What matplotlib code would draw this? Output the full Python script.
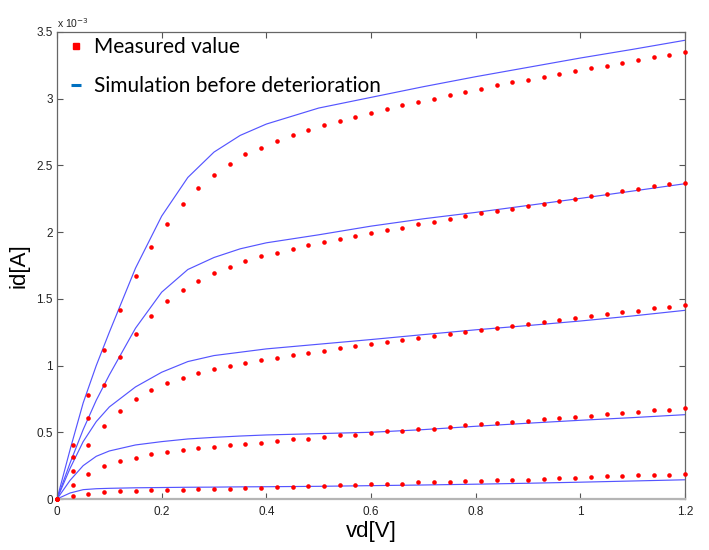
import matplotlib
matplotlib.use("Agg")
import matplotlib.pyplot as plt
from matplotlib.lines import Line2D
from matplotlib.ticker import FuncFormatter

# measured drain current (x 1e-3 A), sampled every 0.03 V
vd_meas = [0.0, 0.03, 0.06, 0.09, 0.12, 0.15, 0.18, 0.21, 0.24, 0.27, 0.30,
           0.33, 0.36, 0.39, 0.42, 0.45, 0.48, 0.51, 0.54, 0.57, 0.60,
           0.63, 0.66, 0.69, 0.72, 0.75, 0.78, 0.81, 0.84, 0.87, 0.90,
           0.93, 0.96, 0.99, 1.02, 1.05, 1.08, 1.11, 1.14, 1.17, 1.20]

meas_1 = [0, 0.406, 0.781, 1.12, 1.42, 1.674, 1.887, 2.063, 2.214, 2.333, 2.43,
          2.512, 2.582, 2.634, 2.681, 2.728, 2.768, 2.805, 2.835, 2.865, 2.892,
          2.921, 2.951, 2.976, 2.999, 3.031, 3.053, 3.075, 3.1, 3.122, 3.14,
          3.164, 3.187, 3.204, 3.229, 3.246, 3.271, 3.288, 3.311, 3.328, 3.348]
meas_2 = [0, 0.317, 0.607, 0.858, 1.064, 1.235, 1.371, 1.483, 1.57, 1.637, 1.694,
          1.741, 1.783, 1.818, 1.845, 1.875, 1.9, 1.924, 1.952, 1.969, 1.994,
          2.014, 2.034, 2.058, 2.076, 2.098, 2.118, 2.14, 2.158, 2.175, 2.195,
          2.212, 2.234, 2.247, 2.272, 2.289, 2.307, 2.326, 2.344, 2.359, 2.371]
meas_3 = [0, 0.213, 0.402, 0.545, 0.662, 0.751, 0.816, 0.868, 0.91, 0.947, 0.975,
          0.999, 1.016, 1.042, 1.059, 1.076, 1.094, 1.111, 1.128, 1.146, 1.158,
          1.175, 1.193, 1.205, 1.222, 1.24, 1.252, 1.269, 1.282, 1.299, 1.314,
          1.329, 1.341, 1.354, 1.371, 1.384, 1.399, 1.411, 1.429, 1.44, 1.453]
meas_4 = [0, 0.104, 0.188, 0.245, 0.283, 0.31, 0.335, 0.352, 0.369, 0.382, 0.392,
          0.404, 0.411, 0.421, 0.434, 0.446, 0.451, 0.464, 0.476, 0.481, 0.493,
          0.506, 0.51, 0.523, 0.528, 0.54, 0.553, 0.56, 0.57, 0.575, 0.588,
          0.6, 0.607, 0.618, 0.625, 0.635, 0.647, 0.652, 0.664, 0.67, 0.682]
meas_5 = [0, 0.02, 0.037, 0.052, 0.057, 0.062, 0.064, 0.069, 0.069, 0.074, 0.077,
          0.077, 0.084, 0.084, 0.089, 0.092, 0.097, 0.097, 0.104, 0.104, 0.112,
          0.116, 0.116, 0.124, 0.126, 0.131, 0.136, 0.136, 0.141, 0.146, 0.146,
          0.153, 0.158, 0.158, 0.166, 0.171, 0.171, 0.179, 0.183, 0.183, 0.19]

# simulation before deterioration (x 1e-3 A)
vd_sim = [0, 0.025, 0.05, 0.075, 0.1, 0.15, 0.2, 0.25, 0.3, 0.35, 0.4,
          0.5, 0.6, 0.7, 0.8, 0.9, 1.0, 1.1, 1.2]
sim_1 = [0, 0.37, 0.72, 1.0, 1.25, 1.73, 2.12, 2.41, 2.60, 2.725, 2.81,
         2.93, 3.01, 3.09, 3.165, 3.235, 3.305, 3.37, 3.438]
sim_2 = [0, 0.27, 0.52, 0.74, 0.93, 1.28, 1.55, 1.72, 1.81, 1.875, 1.92,
         1.98, 2.045, 2.10, 2.148, 2.20, 2.253, 2.308, 2.363]
sim_3 = [0, 0.23, 0.43, 0.58, 0.69, 0.84, 0.95, 1.03, 1.075, 1.10, 1.125,
         1.16, 1.195, 1.232, 1.268, 1.30, 1.334, 1.372, 1.414]
sim_4 = [0, 0.14, 0.25, 0.32, 0.36, 0.405, 0.43, 0.45, 0.462, 0.472, 0.48,
         0.49, 0.50, 0.52, 0.545, 0.568, 0.59, 0.61, 0.632]
sim_5 = [0, 0.045, 0.07, 0.077, 0.08, 0.084, 0.086, 0.088, 0.089, 0.091, 0.092,
         0.095, 0.1, 0.105, 0.111, 0.118, 0.126, 0.135, 0.144]

x_ticks = [0, 0.2, 0.4, 0.6, 0.8, 1.0, 1.2]
y_ticks = [0, 0.5, 1.0, 1.5, 2.0, 2.5, 3.0, 3.5]

plt.rcParams['font.family'] = ['Liberation Sans', 'DejaVu Sans']

fig = plt.figure(figsize=(7.09, 5.5), dpi=100)
ax = fig.add_axes([57 / 709, 1 - 499 / 550, 628 / 709, 467 / 550])

for s in [sim_1, sim_2, sim_3, sim_4, sim_5]:
    ax.plot(vd_sim, s, color='#5555ff', lw=0.85, zorder=2)
for m in [meas_1, meas_2, meas_3, meas_4, meas_5]:
    ax.plot(vd_meas, m, ls='none', marker='o', ms=3.3, mfc='#ff0000',
            mec='#ff0000', mew=0, zorder=3, clip_on=False)

ax.set_xlim(0, 1.2)
ax.set_ylim(0, 3.5)
ax.set_xticks(x_ticks)
ax.set_yticks(y_ticks)
fmt = FuncFormatter(lambda v, p: '%g' % v)
ax.xaxis.set_major_formatter(fmt)
ax.yaxis.set_major_formatter(fmt)
ax.tick_params(direction='in', length=4, width=0.8, colors='#555555',
               labelcolor='#222222', labelsize=8.5, top=True, right=True)
ax.tick_params(axis='x', pad=5)
ax.tick_params(axis='y', pad=3)
for side in ['left', 'right', 'top']:
    ax.spines[side].set_color('#666666')
    ax.spines[side].set_linewidth(0.9)
ax.spines['bottom'].set_color('#b5b5b5')
ax.spines['bottom'].set_linewidth(1.6)

ax.text(0.0, 1.005, 'x 10$^{-3}$', transform=ax.transAxes, fontsize=7.5,
        color='#222222', ha='left', va='bottom')

ax.set_xlabel('vd[V]', fontsize=16, labelpad=2)
ax.set_ylabel('id[A]', fontsize=16, labelpad=5)

handles = [Line2D([], [], ls='none', marker='s', ms=4.5, mfc='#ff0000', mec='#ff0000'),
           Line2D([], [], ls='none', marker='_', ms=7, mew=2.2, color='#0070c0')]
ax.legend(handles, ['Measured value', 'Simulation before deterioration'],
          loc='upper left', bbox_to_anchor=(-0.005, 1.015), frameon=False,
          prop={'family': 'Lato', 'size': 15}, labelspacing=0.9,
          handlelength=0.9, handletextpad=0.45, borderaxespad=0.2)

fig.savefig('out.png', dpi=100)
